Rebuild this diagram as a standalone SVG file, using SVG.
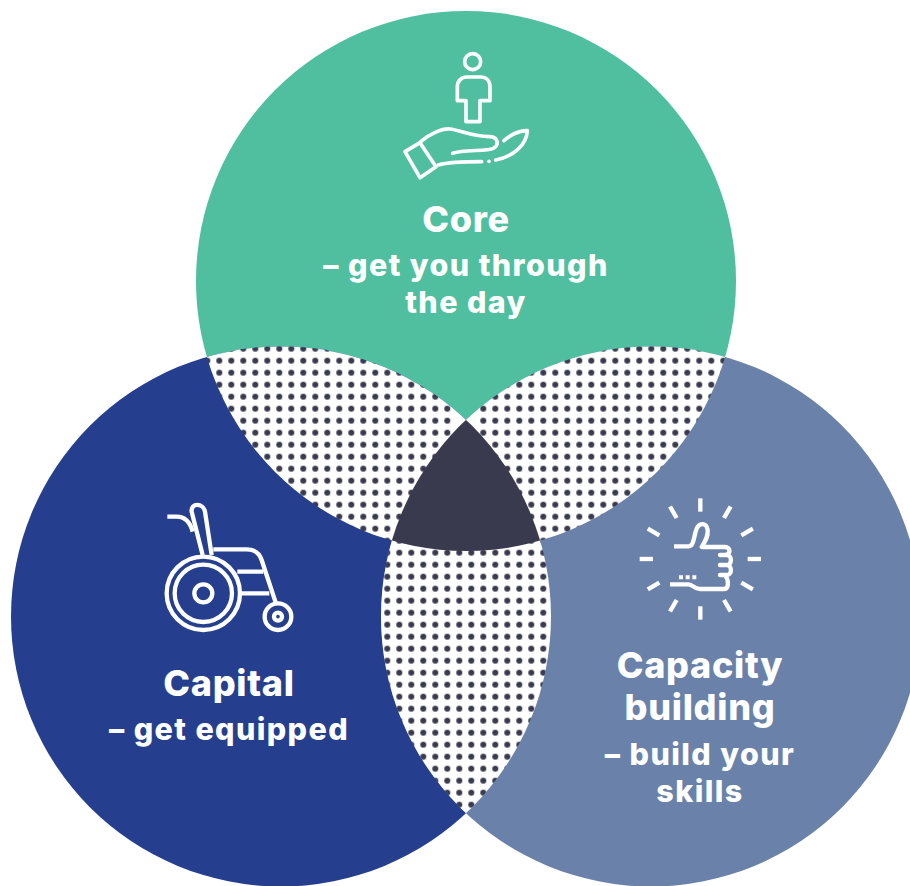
<svg xmlns="http://www.w3.org/2000/svg" width="910" height="886" viewBox="0 0 910 886">
<style>
.t{font-family:"Inter","Open Sans","Liberation Sans",sans-serif;font-weight:800;fill:#fff;text-anchor:middle}
.h{font-size:36px;letter-spacing:.7px}
.s{font-size:30.5px;letter-spacing:1.4px}
.i{fill:none;stroke:#fff;stroke-linecap:butt;stroke-linejoin:round}
</style>
<defs>
<pattern id="dots" patternUnits="userSpaceOnUse" x="369.3" y="402.7" width="12" height="12">
<rect width="12" height="12" fill="#fff"/>
<circle cx="6" cy="6" r="3" fill="#3a3a4f"/>
</pattern>
<clipPath id="cT"><circle cx="466" cy="281" r="270"/></clipPath>
<clipPath id="cL"><circle cx="281" cy="616.5" r="270"/></clipPath>
<clipPath id="cR"><circle cx="651" cy="616.5" r="270"/></clipPath>
</defs>
<rect width="910" height="886" fill="#fff"/>
<g id="circle-core"><circle cx="466" cy="281" r="270" fill="#4fbf9f"/></g>
<g id="circle-capital"><circle cx="281" cy="616.5" r="270" fill="#253f8e"/></g>
<g id="circle-capacity"><circle cx="651" cy="616.5" r="270" fill="#6a82a9"/></g>
<g id="overlaps">
<circle cx="466" cy="281" r="270" fill="url(#dots)" clip-path="url(#cL)"/>
<circle cx="466" cy="281" r="270" fill="url(#dots)" clip-path="url(#cR)"/>
<circle cx="281" cy="616.5" r="270" fill="url(#dots)" clip-path="url(#cR)"/>
<circle cx="459.3" cy="420.7" r="3.6" fill="#fff"/>
<circle cx="471.3" cy="420.7" r="3.6" fill="#fff"/>
<g clip-path="url(#cT)"><circle cx="281" cy="616.5" r="270" fill="#3a3a4f" clip-path="url(#cR)"/></g>
</g>
<g id="core">
<g class="i" transform="translate(380 30) scale(.3333)" stroke-width="11">
<circle cx="278" cy="95" r="24"/>
<path d="M232 212V170C232 152 245 141 260 141H302C318 141 330 152 330 170V212H300V275H258V212Z"/>
<path d="M75 365L120 338L168 410L120 443Z"/>
<path d="M122 335C150 312 185 295 210 297C240 300 270 318 330 320C355 322 358 345 340 355C320 365 250 358 218 370" stroke-linecap="round"/>
<path d="M175 405C210 395 260 395 305 395" stroke-linecap="round"/>
<circle cx="327" cy="394" r="5.5" fill="#fff" stroke="none"/>
<path d="M347 390C400 380 440 345 442 302C420 300 390 315 372 332" stroke-linecap="round"/>
</g>
<text class="t h" x="466" y="232">Core</text>
<text class="t s" x="466" y="276">– get you through</text>
<text class="t s" x="466" y="313">the day</text>
</g>
<g id="capital">
<g class="i" transform="translate(150 490) scale(.3333)" stroke-width="13">
<path d="M52 80H80C105 80 120 95 128 125"/>
<path d="M158 195L125 65C122 38 160 38 165 65L185 195"/>
<path d="M190 178H290C320 178 330 195 335 210L378 340"/>
<path d="M262 245H340M275 310H358"/>
<circle cx="160" cy="310" r="110"/>
<circle cx="160" cy="310" r="86"/>
<circle cx="160" cy="310" r="27"/>
<circle cx="384" cy="380" r="40"/>
<circle cx="384" cy="380" r="12"/>
</g>
<text class="t h" x="229" y="696">Capital</text>
<text class="t s" x="229" y="740">– get equipped</text>
</g>
<g id="capacity">
<g class="i" transform="translate(625 485) scale(.3333)" stroke-width="13">
<g transform="translate(226 222)" stroke-width="13">
<path d="M0-142V-182"/>
<path d="M0-142V-182" transform="rotate(30)"/><path d="M0-142V-182" transform="rotate(60)"/><path d="M0-142V-182" transform="rotate(90)"/><path d="M0-142V-182" transform="rotate(120)"/><path d="M0-142V-182" transform="rotate(150)"/><path d="M0-142V-182" transform="rotate(180)"/><path d="M0-142V-182" transform="rotate(210)"/><path d="M0-142V-182" transform="rotate(240)"/><path d="M0-142V-182" transform="rotate(270)"/><path d="M0-142V-182" transform="rotate(300)"/><path d="M0-142V-182" transform="rotate(330)"/>
</g>
<path d="M147 184H190C205 184 205 165 212 140C218 112 245 110 248 135C250 155 240 170 230 186H300C318 186 318 210 300 210H285H305C322 210 322 240 305 240H285H305C322 240 322 270 305 270H285H300C312 285 312 312 298 312H225C205 312 205 298 190 298H135"/>
<path d="M162 277H216" stroke-width="12" stroke-dasharray="12 8"/>
</g>
<text class="t h" x="700" y="678">Capacity</text>
<text class="t h" x="700" y="720">building</text>
<text class="t s" x="700" y="765">– build your</text>
<text class="t s" x="700" y="802">skills</text>
</g>
</svg>
